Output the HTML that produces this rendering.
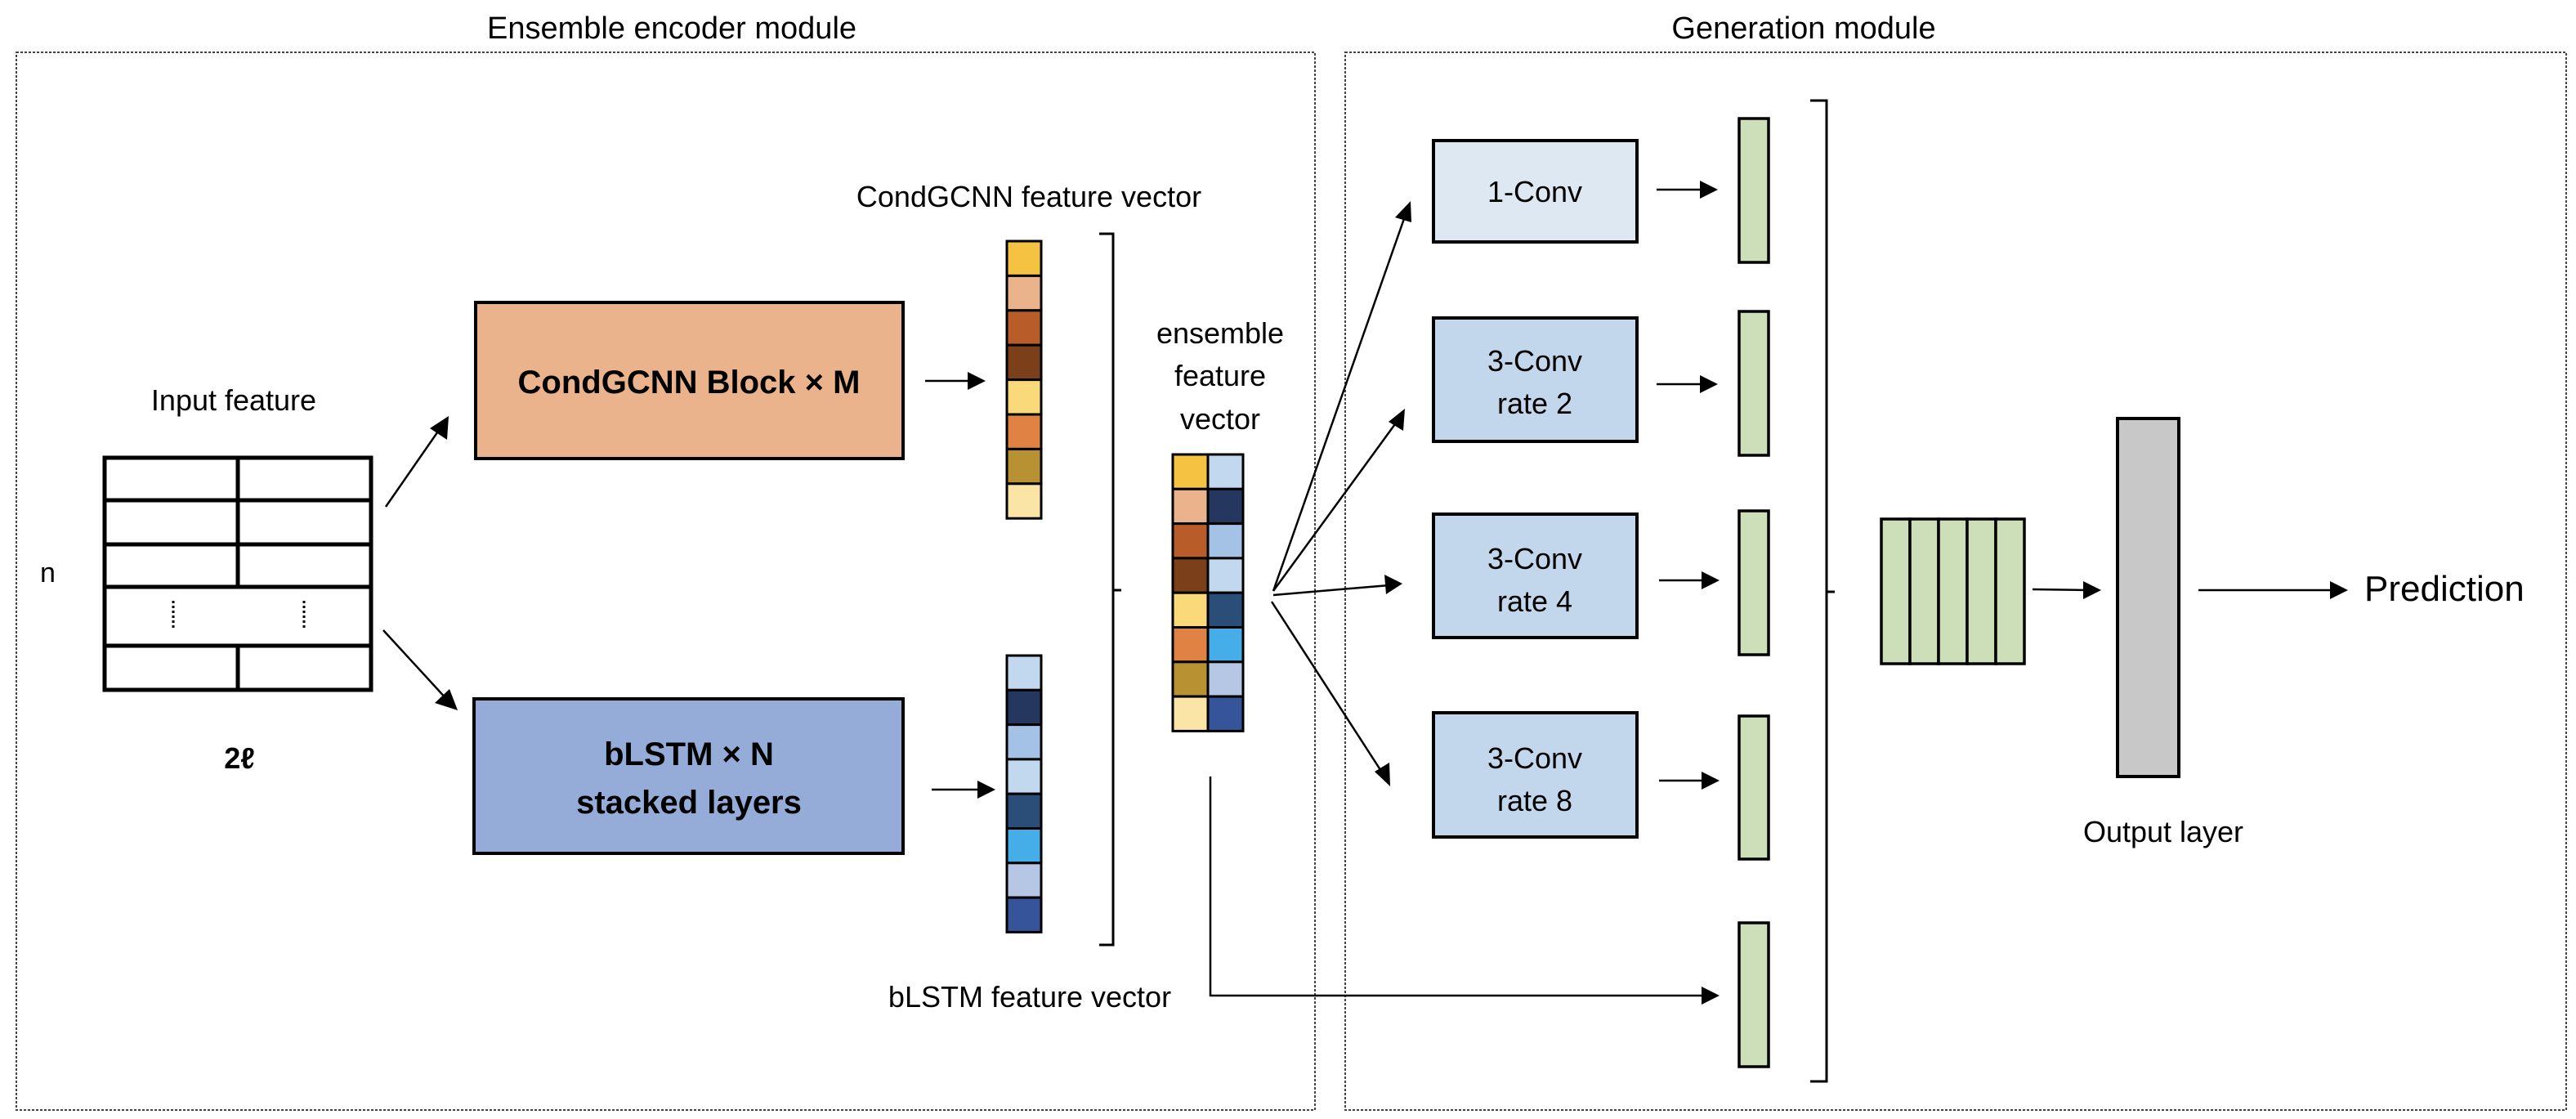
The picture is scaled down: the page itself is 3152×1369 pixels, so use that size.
<!DOCTYPE html>
<html><head><meta charset="utf-8"><style>
html,body{margin:0;padding:0;background:#fff;}
svg{display:block;}
text{font-family:"Liberation Sans",sans-serif;fill:#000;}
</style></head><body>
<svg width="3152" height="1369" viewBox="0 0 3152 1369" xmlns="http://www.w3.org/2000/svg">
<rect x="20" y="64" width="1589" height="1294" fill="none" stroke="#444" stroke-width="2" stroke-dasharray="3,2"/>
<rect x="1646" y="64" width="1494" height="1294" fill="none" stroke="#444" stroke-width="2" stroke-dasharray="3,2"/>
<text x="822" y="47" font-size="38" text-anchor="middle">Ensemble encoder module</text>
<text x="2207" y="47" font-size="38" text-anchor="middle">Generation module</text>

<g stroke="#000" stroke-width="5" fill="none">
<rect x="128" y="560" width="326" height="284" fill="#fff"/>
<line x1="128" y1="612" x2="454" y2="612"/>
<line x1="128" y1="666" x2="454" y2="666"/>
<line x1="128" y1="718" x2="454" y2="718"/>
<line x1="128" y1="790" x2="454" y2="790"/>
<line x1="291" y1="560" x2="291" y2="718"/>
<line x1="291" y1="790" x2="291" y2="844"/>
</g>
<g stroke="#000" stroke-width="3" stroke-dasharray="3,3">
<line x1="212" y1="735" x2="212" y2="770"/>
<line x1="372" y1="735" x2="372" y2="770"/>
</g>
<text x="49" y="712" font-size="34">n</text>
<text x="286" y="502" font-size="36" text-anchor="middle">Input feature</text>
<text x="293" y="940" font-size="36" font-weight="bold" text-anchor="middle">2ℓ</text>

<g stroke="#000" stroke-width="2.5" fill="none">
<line x1="472" y1="620" x2="540" y2="522"/>
<line x1="469" y1="771" x2="548" y2="857"/>
<line x1="1132" y1="466" x2="1190" y2="466"/>
<line x1="1140" y1="966" x2="1200" y2="966"/>
<line x1="1558" y1="723" x2="1720" y2="262"/>
<line x1="1558" y1="723" x2="1712" y2="512"/>
<line x1="1558" y1="728" x2="1700" y2="716"/>
<line x1="1556" y1="736" x2="1693" y2="948"/>
<line x1="2027" y1="232" x2="2088" y2="232"/>
<line x1="2027" y1="470" x2="2088" y2="470"/>
<line x1="2030" y1="710" x2="2090" y2="710"/>
<line x1="2030" y1="955" x2="2090" y2="955"/>
<polyline points="1481,950 1481,1218 2090,1218"/>
<line x1="2487" y1="721" x2="2556" y2="722"/>
<line x1="2690" y1="722" x2="2858" y2="722"/>
</g>
<g fill="#000">
<polygon points="549,509 547,538 526,524"/>
<polygon points="560,869 532,860 550,843"/>
<polygon points="1206,466 1184,455 1184,477"/>
<polygon points="1218,966 1196,955 1196,977"/>
<polygon points="1726,246 1727,272 1707,266"/>
<polygon points="1719,500 1717,527 1699,516"/>
<polygon points="1716,714 1694,703 1696,727"/>
<polygon points="1701,962 1682,944 1700,933"/>
<polygon points="2102,232 2080,221 2080,243"/>
<polygon points="2102,470 2080,459 2080,481"/>
<polygon points="2104,710 2082,699 2082,721"/>
<polygon points="2104,955 2082,944 2082,966"/>
<polygon points="2104,1218 2082,1207 2082,1229"/>
<polygon points="2571,722 2549,711 2549,733"/>
<polygon points="2873,722 2851,711 2851,733"/>
</g>

<rect x="582" y="370" width="523" height="191" fill="#EBB38B" stroke="#000" stroke-width="4"/>
<text x="843" y="481" font-size="40" font-weight="bold" text-anchor="middle">CondGCNN Block × M</text>
<rect x="580" y="855" width="525" height="189" fill="#95ACD8" stroke="#000" stroke-width="4"/>
<text x="843" y="936" font-size="40" font-weight="bold" text-anchor="middle">bLSTM × N</text>
<text x="843" y="995" font-size="40" font-weight="bold" text-anchor="middle">stacked layers</text>

<g stroke="#000" stroke-width="3">
<rect x="1232" y="295" width="42" height="42.4" fill="#F5C242"/>
<rect x="1232" y="337.4" width="42" height="42.4" fill="#EAB38C"/>
<rect x="1232" y="379.8" width="42" height="42.4" fill="#B85C2A"/>
<rect x="1232" y="422.2" width="42" height="42.4" fill="#7B3F1A"/>
<rect x="1232" y="464.6" width="42" height="42.4" fill="#F9D97A"/>
<rect x="1232" y="507" width="42" height="42.4" fill="#DF8244"/>
<rect x="1232" y="549.4" width="42" height="42.4" fill="#B89232"/>
<rect x="1232" y="591.8" width="42" height="42.4" fill="#FBE5A6"/>
</g>
<g stroke="#000" stroke-width="3">
<rect x="1232" y="802" width="42" height="42.3" fill="#C2D8EE"/>
<rect x="1232" y="844.3" width="42" height="42.3" fill="#25365F"/>
<rect x="1232" y="886.6" width="42" height="42.3" fill="#A4C2E6"/>
<rect x="1232" y="928.9" width="42" height="42.3" fill="#C2D8EE"/>
<rect x="1232" y="971.2" width="42" height="42.3" fill="#2A4E78"/>
<rect x="1232" y="1013.5" width="42" height="42.3" fill="#45ADE8"/>
<rect x="1232" y="1055.8" width="42" height="42.3" fill="#B6C7E6"/>
<rect x="1232" y="1098.1" width="42" height="42.3" fill="#35549A"/>
</g>
<text x="1259" y="253" font-size="36" text-anchor="middle">CondGCNN feature vector</text>
<text x="1260" y="1232" font-size="36" text-anchor="middle">bLSTM feature vector</text>
<text x="1493" y="420" font-size="36" text-anchor="middle">ensemble</text>
<text x="1493" y="472" font-size="36" text-anchor="middle">feature</text>
<text x="1493" y="525" font-size="36" text-anchor="middle">vector</text>

<polyline points="1345,286 1362,286 1362,1156 1345,1156" fill="none" stroke="#000" stroke-width="3"/>
<line x1="1362" y1="722" x2="1372" y2="722" stroke="#000" stroke-width="3"/>

<g stroke="#000" stroke-width="3">
<rect x="1435" y="556" width="43" height="42.3" fill="#F5C242"/>
<rect x="1478" y="556" width="43" height="42.3" fill="#C2D8EE"/>
<rect x="1435" y="598.3" width="43" height="42.3" fill="#EAB38C"/>
<rect x="1478" y="598.3" width="43" height="42.3" fill="#25365F"/>
<rect x="1435" y="640.6" width="43" height="42.3" fill="#B85C2A"/>
<rect x="1478" y="640.6" width="43" height="42.3" fill="#A4C2E6"/>
<rect x="1435" y="682.9" width="43" height="42.3" fill="#7B3F1A"/>
<rect x="1478" y="682.9" width="43" height="42.3" fill="#C2D8EE"/>
<rect x="1435" y="725.2" width="43" height="42.3" fill="#F9D97A"/>
<rect x="1478" y="725.2" width="43" height="42.3" fill="#2A4E78"/>
<rect x="1435" y="767.5" width="43" height="42.3" fill="#DF8244"/>
<rect x="1478" y="767.5" width="43" height="42.3" fill="#45ADE8"/>
<rect x="1435" y="809.8" width="43" height="42.3" fill="#B89232"/>
<rect x="1478" y="809.8" width="43" height="42.3" fill="#B6C7E6"/>
<rect x="1435" y="852.1" width="43" height="42.3" fill="#FBE5A6"/>
<rect x="1478" y="852.1" width="43" height="42.3" fill="#35549A"/>
</g>

<g stroke="#000" stroke-width="4">
<rect x="1754" y="172" width="249" height="124" fill="#DEE8F3"/>
<rect x="1754" y="389" width="249" height="151" fill="#C3D7EC"/>
<rect x="1754" y="629" width="249" height="151" fill="#C3D7EC"/>
<rect x="1754" y="872" width="249" height="152" fill="#C3D7EC"/>
</g>
<text x="1878" y="247" font-size="36" text-anchor="middle">1-Conv</text>
<text x="1878" y="454" font-size="36" text-anchor="middle">3-Conv</text>
<text x="1878" y="506" font-size="36" text-anchor="middle">rate 2</text>
<text x="1878" y="696" font-size="36" text-anchor="middle">3-Conv</text>
<text x="1878" y="748" font-size="36" text-anchor="middle">rate 4</text>
<text x="1878" y="940" font-size="36" text-anchor="middle">3-Conv</text>
<text x="1878" y="992" font-size="36" text-anchor="middle">rate 8</text>

<g stroke="#000" stroke-width="3.5" fill="#CCDFB8">
<rect x="2128" y="145" width="36" height="176"/>
<rect x="2128" y="381" width="36" height="176"/>
<rect x="2128" y="625" width="36" height="176"/>
<rect x="2128" y="876" width="36" height="175"/>
<rect x="2128" y="1129" width="36" height="176"/>
</g>
<polyline points="2215,123 2235,123 2235,1323 2215,1323" fill="none" stroke="#000" stroke-width="3"/>
<line x1="2235" y1="724" x2="2245" y2="724" stroke="#000" stroke-width="3"/>

<g stroke="#000" stroke-width="3.5" fill="#CCDFB8">
<rect x="2302" y="635" width="35" height="177"/>
<rect x="2337" y="635" width="35" height="177"/>
<rect x="2372" y="635" width="35" height="177"/>
<rect x="2407" y="635" width="35" height="177"/>
<rect x="2442" y="635" width="35" height="177"/>
</g>
<rect x="2591" y="512" width="75" height="438" fill="#C8C8C8" stroke="#000" stroke-width="4"/>
<text x="2647" y="1030" font-size="36" text-anchor="middle">Output layer</text>
<text x="2893" y="735" font-size="44">Prediction</text>
</svg>
</body></html>
